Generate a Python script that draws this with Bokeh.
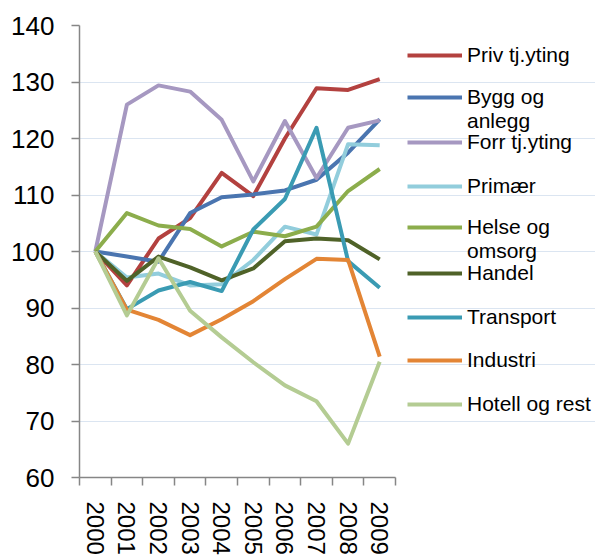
from bokeh.plotting import figure
from bokeh.models import FixedTicker, Legend, LegendItem, Range1d
from bokeh.embed import file_html
from bokeh.resources import INLINE

years = ["2000", "2001", "2002", "2003", "2004", "2005", "2006", "2007", "2008", "2009"]

priv = [100, 94.0, 102.3, 105.9, 113.9, 109.8, 120.0, 128.9, 128.6, 130.5]
bygg = [100, 99.1, 98.2, 106.8, 109.6, 110.1, 110.8, 112.7, 117.5, 123.4]
forr = [100, 126.0, 129.4, 128.3, 123.3, 112.4, 123.1, 113.0, 121.9, 123.2]
primaer = [100, 95.4, 96.1, 94.0, 94.2, 98.5, 104.4, 103.0, 119.0, 118.8]
helse = [100, 106.8, 104.6, 104.0, 100.9, 103.5, 102.7, 104.4, 110.7, 114.6]
handel = [100, 94.8, 99.1, 97.2, 94.9, 97.0, 101.8, 102.3, 102.0, 98.6]
transport = [100, 89.8, 93.1, 94.6, 93.0, 103.9, 109.3, 121.9, 98.3, 93.6]
industri = [100, 89.7, 87.9, 85.2, 88.0, 91.2, 95.1, 98.7, 98.5, 81.4]
hotell = [100, 88.7, 98.8, 89.5, 84.8, 80.4, 76.3, 73.5, 66.0, 80.5]

labels = ["Priv tj.yting", "Bygg og\nanlegg", "Forr tj.yting", "Primær",
          "Helse og\nomsorg", "Handel", "Transport", "Industri", "Hotell og rest"]
values = [priv, bygg, forr, primaer, helse, handel, transport, industri, hotell]
colors = ["#b3413f", "#4a75b0", "#a698c1", "#92cddc", "#8cad4c",
          "#4f6228", "#3a9bb3", "#e38535", "#b4cc93"]

y_ticks = [60, 70, 80, 90, 100, 110, 120, 130, 140]

xs = list(range(len(years)))

W, H = 595, 558
BL, BT, BB, BR = 79, 25, 81, 0
unit_px = 31.6                      # width of one year slot in pixels
x_lo = -0.5
x_hi_axis = len(years) - 0.5
x_hi = x_lo + (W - BL - BR) / unit_px   # frame extends right to host the legend

p = figure(width=W, height=H, output_backend="svg", toolbar_location=None,
           x_range=Range1d(x_lo, x_hi), y_range=Range1d(60, 140),
           min_border_left=BL, min_border_top=BT, min_border_bottom=BB,
           min_border_right=BR)
p.outline_line_color = None
p.background_fill_color = "white"
p.border_fill_color = "white"

renderers = []
for lab, vals, col in zip(labels, values, colors):
    r = p.line(x=xs, y=vals, line_color=col, line_width=4, line_join="round")
    renderers.append(r)

# y axis
p.yaxis.ticker = FixedTicker(ticks=y_ticks)
p.yaxis.major_label_text_font = "Liberation Sans"
p.yaxis.major_label_text_font_size = "26px"
p.yaxis.major_label_text_color = "black"
p.yaxis.major_tick_out = 8
p.yaxis.major_tick_in = 0
p.yaxis.minor_tick_line_color = None
p.yaxis.major_label_standoff = 17
p.yaxis.axis_line_color = "#868686"
p.yaxis.axis_line_width = 1.5
p.yaxis.major_tick_line_color = "#868686"
p.yaxis.major_tick_line_width = 1.5

# x axis
p.xaxis.bounds = (x_lo, x_hi_axis)
p.xaxis.ticker = FixedTicker(ticks=xs, minor_ticks=[i - 0.5 for i in range(len(years) + 1)])
p.xaxis.major_label_overrides = {i: y for i, y in zip(xs, years)}
p.xaxis.major_label_orientation = "vertical"
p.xaxis.major_label_text_font = "Liberation Sans"
p.xaxis.major_label_text_font_size = "24px"
p.xaxis.major_label_text_color = "black"
p.xaxis.major_tick_out = 0
p.xaxis.major_tick_in = 0
p.xaxis.major_tick_line_color = None
p.xaxis.minor_tick_out = 8
p.xaxis.minor_tick_in = 0
p.xaxis.minor_tick_line_color = "#868686"
p.xaxis.minor_tick_line_width = 1.5
p.xaxis.major_label_standoff = 16
p.xaxis.axis_line_color = "#868686"
p.xaxis.axis_line_width = 1.5

p.xgrid.visible = False
p.ygrid.ticker = FixedTicker(ticks=y_ticks)
p.ygrid.bounds = (x_lo, x_hi_axis)
p.ygrid.grid_line_color = "#dbe5f1"
p.ygrid.grid_line_width = 1.2

# legend: one small legend per entry, stacked at a fixed pitch;
# wrapped labels get leading blank lines so the swatch sits on the first line
frame_bottom = H - BB
row0, pitch, row_h = 56.0, 43.6, 22
font_px, line_h = 21, 1.05
for i, (lab, r) in enumerate(zip(labels, renderers)):
    center = row0 + i * pitch
    nlines = lab.count("\n") + 1
    shown = "\n" * (nlines - 1) + lab
    n_eff = 2 * nlines - 1
    box_h = max(row_h, font_px * line_h * n_eff) if n_eff > 1 else row_h
    bottom = center + box_h / 2
    lg = Legend(items=[LegendItem(label=shown, renderers=[r])],
                location=(328, int(round(frame_bottom - bottom))),
                orientation="vertical",
                glyph_width=55, glyph_height=row_h, label_height=row_h,
                label_standoff=5, spacing=0, padding=0, margin=0,
                border_line_alpha=0, background_fill_alpha=0,
                label_text_font="Liberation Sans", label_text_font_size=f"{font_px}px",
                label_text_color="black", label_text_line_height=line_h)
    p.add_layout(lg, "center")

open("out.html", "w").write(file_html(p, INLINE))
